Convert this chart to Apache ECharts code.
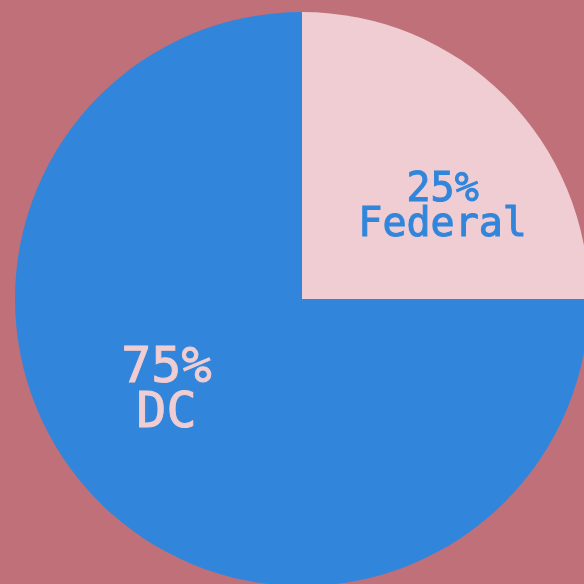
<!DOCTYPE html>
<html>
<head>
<meta charset="utf-8">
<style>
  html, body { margin: 0; padding: 0; background: #c07078; }
  #chart { width: 584px; height: 584px; }
</style>
<script src="https://cdn.jsdelivr.net/npm/echarts@6/dist/echarts.min.js"></script>
</head>
<body>
<div id="chart"></div>
<script>
const categories = ['Federal', 'DC'];
const values = [25, 75];

const sliceColors = ['#efcdd2', '#3186dc'];
const textColors = ['#3186dc', '#efcdd2'];
const fontSizes = [40, 50];
const lineHeights = [35, 45];
// label nudges relative to the default inside spot
const shifts = [[37, 13], [-32, -11]];

const chart = echarts.init(document.getElementById('chart'));

chart.setOption({
  animation: false,
  backgroundColor: '#c07078',
  series: [
    {
      type: 'pie',
      center: [302, 299],
      radius: [0, 287],
      startAngle: 90,
      clockwise: true,
      silent: true,
      label: {
        show: true,
        position: 'inside',
        fontFamily: 'DejaVu Sans Mono',
        formatter: (p) => `${p.value}%\n${p.name}`,
      },
      labelLine: { show: false },
      labelLayout: (p) => ({ dx: shifts[p.dataIndex][0], dy: shifts[p.dataIndex][1] }),
      itemStyle: { borderWidth: 0 },
      data: categories.map((name, i) => ({
        name,
        value: values[i],
        itemStyle: { color: sliceColors[i] },
        label: {
          color: textColors[i],
          fontSize: fontSizes[i],
          lineHeight: lineHeights[i],
          textBorderColor: textColors[i],
          textBorderWidth: 1,
        },
      })),
    },
  ],
});
</script>
</body>
</html>
